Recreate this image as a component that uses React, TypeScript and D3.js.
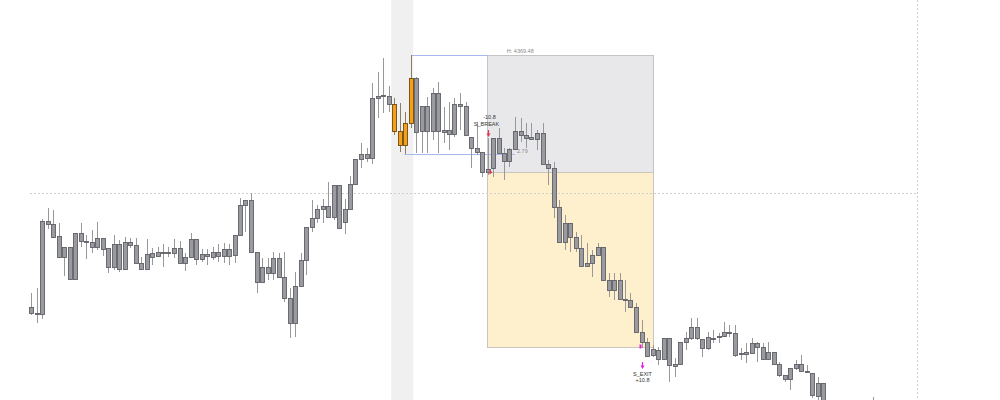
import * as d3 from "d3";

// OHLC bars, one per slot
const opens = [
  4356.90, 4356.60, 4356.55, 4361.20, 4361.05, 4360.45, 4359.40, 4359.90, 4358.30, 4360.60,
  4360.20, 4360.15, 4359.90, 4360.35, 4359.85, 4358.90, 4360.05, 4358.80, 4360.15, 4360.00,
  4359.10, 4358.80, 4359.60, 4359.45, 4359.65, 4359.60, 4359.60, 4359.85, 4359.40, 4359.40,
  4360.30, 4359.55, 4359.45, 4359.40, 4359.65, 4359.45, 4359.80, 4359.50, 4360.50, 4362.00,
  4362.25, 4359.65, 4358.15, 4358.90, 4358.60, 4359.35, 4358.40, 4357.35, 4356.10, 4357.95,
  4359.25, 4360.90, 4361.35, 4361.80, 4361.95, 4361.40, 4363.00, 4361.15, 4361.80, 4363.05,
  4364.30, 4364.55, 4364.35, 4367.35, 4367.45, 4367.45, 4367.05, 4365.70, 4365.00, 4366.10,
  4368.35, 4365.70, 4366.95, 4365.70, 4367.60, 4365.75, 4365.55, 4365.55, 4367.05, 4366.95,
  4365.40, 4364.85, 4364.65, 4363.65, 4363.85, 4365.35, 4364.60, 4364.20, 4364.80, 4365.70,
  4365.50, 4365.40, 4365.30, 4365.60, 4364.05, 4363.85, 4361.90, 4360.15, 4361.10, 4360.40,
  4359.85, 4359.10, 4359.10, 4359.50, 4359.90, 4358.25, 4357.75, 4358.25, 4357.30, 4357.25,
  4356.90, 4355.65, 4355.15, 4354.50, 4354.75, 4354.30, 4355.35, 4354.05, 4354.05, 4355.15,
  4355.35, 4355.90, 4355.30, 4354.85, 4355.35, 4355.40, 4355.45, 4355.65, 4355.60, 4354.60,
  4354.55, 4354.60, 4355.10, 4354.90, 4354.30, 4354.65, 4354.05, 4353.50, 4353.30, 4353.85,
  4354.05, 4353.70, 4353.60, 4352.45, 4353.10, 4352.00, 4351.40, 4350.90, 4351.30, 4351.10,
  4350.50, 4350.80, 4351.50, 4351.20,
];

const highs = [
  4357.60, 4357.85, 4361.30, 4361.85, 4361.75, 4361.10, 4359.90, 4359.90, 4360.60, 4361.10,
  4360.50, 4360.75, 4361.15, 4360.35, 4359.85, 4360.50, 4360.25, 4360.40, 4360.35, 4360.35,
  4359.40, 4360.30, 4359.85, 4359.90, 4360.05, 4359.90, 4360.30, 4360.20, 4359.60, 4360.60,
  4360.30, 4359.80, 4359.80, 4359.90, 4360.05, 4360.10, 4360.05, 4360.50, 4362.35, 4362.25,
  4362.60, 4359.65, 4359.35, 4359.35, 4359.65, 4359.60, 4359.65, 4357.85, 4358.65, 4359.60,
  4360.90, 4362.25, 4362.00, 4362.30, 4363.15, 4363.00, 4363.00, 4362.30, 4363.45, 4364.30,
  4365.10, 4364.85, 4368.10, 4368.65, 4369.35, 4367.95, 4367.35, 4367.10, 4366.65, 4369.50,
  4368.40, 4366.95, 4367.40, 4367.85, 4368.15, 4366.90, 4367.15, 4367.35, 4367.60, 4367.15,
  4365.40, 4366.15, 4364.65, 4365.35, 4365.35, 4365.85, 4364.85, 4364.85, 4366.40, 4366.35,
  4366.10, 4366.10, 4365.75, 4366.10, 4364.25, 4364.15, 4362.25, 4361.50, 4361.10, 4360.65,
  4360.50, 4360.10, 4359.75, 4360.10, 4359.90, 4358.60, 4358.60, 4358.60, 4358.25, 4357.60,
  4357.10, 4356.25, 4355.35, 4355.00, 4354.90, 4355.35, 4355.35, 4354.35, 4355.15, 4355.65,
  4356.35, 4356.35, 4355.30, 4355.65, 4355.75, 4355.60, 4356.15, 4356.00, 4356.00, 4354.85,
  4355.10, 4355.35, 4355.15, 4355.10, 4355.15, 4354.65, 4354.15, 4353.50, 4353.85, 4354.25,
  4354.50, 4354.00, 4353.60, 4353.40, 4353.10, 4352.10, 4351.60, 4351.50, 4351.80, 4351.40,
  4351.00, 4351.70, 4351.90, 4352.40,
];

const lows = [
  4356.50, 4356.10, 4356.30, 4360.80, 4360.35, 4359.35, 4358.45, 4358.30, 4358.30, 4359.90,
  4359.30, 4359.60, 4359.75, 4359.45, 4358.60, 4358.75, 4358.65, 4358.75, 4359.85, 4359.10,
  4358.80, 4358.80, 4359.00, 4359.40, 4358.90, 4359.40, 4359.35, 4359.10, 4358.70, 4359.40,
  4359.00, 4359.15, 4359.00, 4359.25, 4359.15, 4359.10, 4359.00, 4359.10, 4360.50, 4360.65,
  4359.65, 4357.60, 4358.15, 4358.25, 4358.25, 4358.40, 4357.15, 4355.35, 4355.40, 4357.90,
  4358.50, 4360.65, 4361.10, 4361.10, 4361.40, 4361.25, 4360.85, 4360.55, 4361.80, 4363.05,
  4363.85, 4364.15, 4364.05, 4366.35, 4366.60, 4366.65, 4365.50, 4364.65, 4364.55, 4365.85,
  4364.60, 4364.60, 4364.60, 4365.25, 4364.60, 4365.10, 4364.75, 4365.40, 4365.75, 4365.50,
  4363.85, 4364.50, 4363.40, 4363.50, 4363.40, 4364.60, 4363.25, 4363.90, 4364.80, 4365.15,
  4364.85, 4365.25, 4364.75, 4364.05, 4363.00, 4361.35, 4360.15, 4359.75, 4359.65, 4359.65,
  4358.95, 4358.90, 4358.40, 4359.50, 4358.25, 4357.40, 4357.25, 4357.30, 4356.65, 4356.90,
  4355.65, 4354.85, 4354.40, 4354.40, 4354.00, 4354.25, 4353.15, 4353.40, 4354.00, 4354.75,
  4355.25, 4355.25, 4354.40, 4354.75, 4355.10, 4355.10, 4355.40, 4355.40, 4354.40, 4354.25,
  4354.10, 4354.60, 4354.15, 4354.25, 4354.25, 4354.00, 4353.40, 4353.15, 4352.75, 4353.75,
  4353.65, 4353.65, 4352.35, 4352.15, 4351.75, 4351.20, 4350.70, 4350.60, 4350.90, 4350.30,
  4350.20, 4350.60, 4351.00, 4350.80,
];

const closes = [
  4356.60, 4356.55, 4361.20, 4361.05, 4360.40, 4359.40, 4359.90, 4358.30, 4360.60, 4360.20,
  4360.15, 4359.90, 4360.35, 4359.80, 4358.90, 4360.05, 4358.80, 4360.15, 4360.00, 4359.10,
  4358.80, 4359.55, 4359.40, 4359.65, 4359.60, 4359.65, 4359.85, 4359.10, 4359.10, 4360.30,
  4359.30, 4359.30, 4359.55, 4359.65, 4359.45, 4359.80, 4359.45, 4360.50, 4362.00, 4362.25,
  4359.65, 4358.15, 4358.90, 4358.60, 4359.35, 4358.40, 4357.35, 4356.10, 4357.95, 4359.25,
  4360.90, 4361.35, 4361.80, 4361.95, 4361.40, 4363.00, 4360.85, 4361.80, 4363.05, 4364.30,
  4364.55, 4364.35, 4367.35, 4367.45, 4367.50, 4367.05, 4365.70, 4365.00, 4366.10, 4368.35,
  4365.65, 4366.95, 4365.70, 4367.60, 4365.70, 4365.65, 4365.75, 4367.05, 4366.95, 4365.50,
  4364.85, 4364.65, 4363.65, 4363.80, 4365.35, 4364.60, 4364.20, 4364.80, 4365.70, 4365.50,
  4365.35, 4365.30, 4365.60, 4364.05, 4363.85, 4361.90, 4360.15, 4361.10, 4360.40, 4359.85,
  4358.95, 4358.95, 4359.50, 4359.90, 4358.25, 4357.75, 4358.25, 4357.30, 4357.25, 4356.90,
  4355.65, 4355.15, 4354.45, 4354.80, 4354.30, 4355.35, 4354.00, 4353.95, 4355.15, 4355.35,
  4355.90, 4355.35, 4354.85, 4355.40, 4355.30, 4355.45, 4355.65, 4355.60, 4354.50, 4354.55,
  4354.65, 4355.10, 4354.90, 4354.30, 4354.65, 4354.05, 4353.50, 4353.30, 4353.85, 4354.05,
  4353.70, 4353.65, 4352.50, 4353.10, 4352.00, 4351.40, 4350.90, 4351.30, 4351.10, 4350.50,
  4350.80, 4351.50, 4351.20, 4351.60,
];

// highlighted session bars (orange)
const sessionBars = [66, 67, 68, 69];

// range lines
const rangeHigh = 4369.5;
const rangeLow = 4364.55;
const rangeHighFrom = 69;
const rangeLowFrom = 68;
const rangeLowTo = 88;

// short trade box
const tradeFrom = 82.9;
const tradeTo = 113.1;
const stopPrice = 4369.5;
const entryPrice = 4363.65;
const targetPrice = 4354.9;
const breakBar = 83;
const exitBar = 111;

// crosshair
const crossPrice = 4362.6;
const crossBar = 161.1;

const highLabel = "H: 4369.48";
const lowLabel = "2.79";
const breakLabel = ["-10.8", "S_BREAK"];
const exitLabel = ["S_EXIT", "+10.8"];

const FONT = "'Liberation Sans', Arial, sans-serif";

export default function App() {
  const width = 1000;
  const height = 400;

  const x = d3.scaleLinear().domain([0, 144]).range([31, 823]);
  const y = d3.scaleLinear().domain([4372.25, 4352.25]).range([0, height]);
  const step = x(1) - x(0);
  const bx = (i: number) => Math.round(x(i));

  const bandX0 = x(sessionBars[0]) - step / 2;
  const bandX1 = x(sessionBars[sessionBars.length - 1]) + step / 2;

  const tX0 = Math.round(x(tradeFrom)) + 0.5;
  const tX1 = Math.round(x(tradeTo)) + 0.5;
  const yStop = Math.round(y(stopPrice)) + 0.5;
  const yEntry = Math.round(y(entryPrice)) + 0.5;
  const yTarget = Math.round(y(targetPrice)) + 0.5;
  const yRangeHigh = Math.round(y(rangeHigh)) + 0.5;
  const yRangeLow = Math.round(y(rangeLow)) + 0.5;

  const breakX = bx(breakBar) + 0.5;
  const breakTop = y(highs[breakBar]);
  const exitX = bx(exitBar) + 0.5;
  const exitBottom = y(lows[exitBar]);

  const downArrow = (cx: number, tip: number, color: string) => (
    <g fill={color}>
      <rect x={cx - 0.6} y={tip - 7} width={1.2} height={4} />
      <path d={`M${cx - 2},${tip - 3.5} L${cx + 2},${tip - 3.5} L${cx},${tip} Z`} />
    </g>
  );

  return (
    <div style={{ position: "fixed", left: 0, top: 0, width, height, background: "#fff" }}>
      <svg width={width} height={height} style={{ display: "block" }}>
        <rect width={width} height={height} fill="#ffffff" />

        {/* session band */}
        <rect x={bandX0} y={0} width={bandX1 - bandX0} height={height} fill="#f0f0f0" />

        {/* trade box: risk (grey) and reward (yellow) */}
        <rect x={tX0} y={yStop} width={tX1 - tX0} height={yEntry - yStop} fill="#e8e8eb" stroke="#c4c4c8" strokeWidth={1} />
        <rect x={tX0} y={yEntry} width={tX1 - tX0} height={yTarget - yEntry} fill="#fff0cd" stroke="#cac6be" strokeWidth={1} />

        {/* crosshair */}
        <line
          x1={x(0) - 1}
          x2={Math.round(x(crossBar)) + 0.5}
          y1={Math.round(y(crossPrice)) + 0.5}
          y2={Math.round(y(crossPrice)) + 0.5}
          stroke="#cfcfcf"
          strokeDasharray="2,2"
        />
        <line
          x1={Math.round(x(crossBar)) + 0.5}
          x2={Math.round(x(crossBar)) + 0.5}
          y1={0}
          y2={height}
          stroke="#cfcfcf"
          strokeDasharray="2,2"
        />

        {/* range lines */}
        <line x1={bx(rangeHighFrom)} x2={tX0} y1={yRangeHigh} y2={yRangeHigh} stroke="#a9b9ef" strokeWidth={1} />
        <line x1={bx(rangeLowFrom) - 0.5} x2={bx(rangeLowTo)} y1={yRangeLow} y2={yRangeLow} stroke="#a9b9ef" strokeWidth={1} />

        <text x={(tX0 + x(tradeTo)) / 2 - 50} y={yStop - 3} fontFamily={FONT} fontSize={5.5} fill="#8a8a8a" textAnchor="middle">
          {highLabel}
        </text>
        <text x={bx(rangeLowTo) + 2} y={y(rangeLow) - 1.5} fontFamily={FONT} fontSize={5.5} fill="#8a8a8a">
          {lowLabel}
        </text>

        {/* candles */}
        {opens.map((o, i) => {
          const c = closes[i];
          const cx = bx(i);
          const top = Math.round(y(Math.max(o, c)));
          const bot = Math.round(y(Math.min(o, c)));
          const orange = sessionBars.includes(i);
          return (
            <g key={i}>
              <line
                x1={cx + 0.5}
                x2={cx + 0.5}
                y1={y(highs[i])}
                y2={y(lows[i])}
                stroke={orange ? "#8c7c62" : "#98989a"}
                strokeWidth={1}
              />
              <rect
                x={cx - 1.5}
                y={top + 0.5}
                width={4}
                height={Math.max(1, bot - top)}
                fill={orange ? "#f5a017" : "#9a9aa1"}
                stroke={orange ? "#6e4c12" : "#606067"}
                strokeWidth={0.9}
              />
            </g>
          );
        })}

        {/* break signal */}
        <text x={breakX + 1} y={breakTop - 19} fontFamily={FONT} fontSize={5.5} fill="#333" textAnchor="middle">
          {breakLabel[0]}
        </text>
        <text x={breakX - 2} y={breakTop - 12.5} fontFamily={FONT} fontSize={5.5} fill="#333" textAnchor="middle">
          {breakLabel[1]}
        </text>
        {downArrow(breakX, breakTop - 1, "#e8364f")}
        <path d={`M${breakX + 1},${yEntry - 3} L${breakX + 4},${yEntry} L${breakX + 1},${yEntry + 2} Z`} fill="#e8364f" />

        {/* exit signal */}
        <path d={`M${exitX - 1},${yTarget - 3} L${exitX - 3},${yTarget - 3} L${exitX - 3},${yTarget + 1} L${exitX - 1},${yTarget + 1} Z`} fill="#e020e0" />
        {downArrow(exitX, exitBottom + 21, "#e020e0")}
        <text x={exitX} y={exitBottom + 28} fontFamily={FONT} fontSize={5.5} fill="#333" textAnchor="middle">
          {exitLabel[0]}
        </text>
        <text x={exitX} y={exitBottom + 34} fontFamily={FONT} fontSize={5.5} fill="#333" textAnchor="middle">
          {exitLabel[1]}
        </text>
      </svg>
    </div>
  );
}
